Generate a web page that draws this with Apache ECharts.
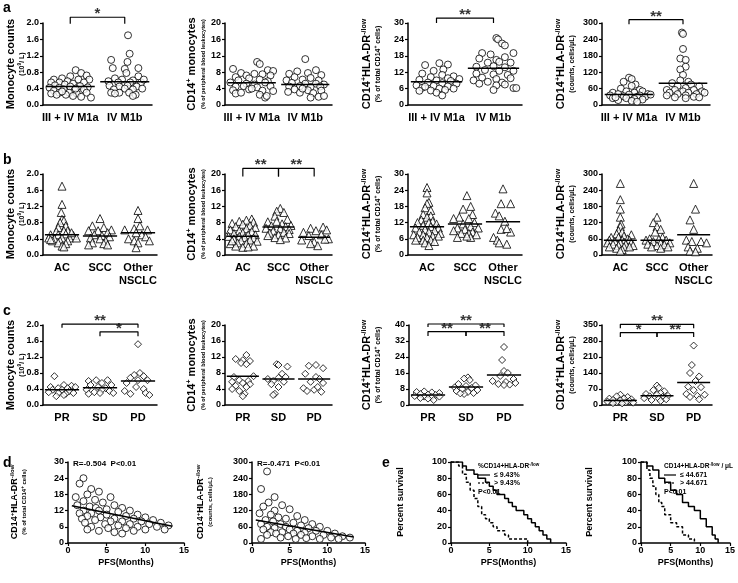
<!DOCTYPE html>
<html>
<head>
<meta charset="utf-8">
<title>Monocytes / HLA-DR</title>
<script src="https://cdn.jsdelivr.net/npm/echarts@6/dist/echarts.min.js"></script>
<style>html,body{margin:0;background:#fff}#main{width:738px;height:583px}</style>
</head>
<body>
<div id="main"></div>
<script>
// ---------- data ----------
var catA = ['III + IV M1a', 'IV M1b'];
var catB = ['AC', 'SCC', 'Other\nNSCLC'];
var catC = ['PR', 'SD', 'PD'];

// points are [jitter, value]
// a1 monocyte counts (10^9/L)
var a1_m1a = [[-0.3,0.62],[-0.15,0.65],[0,0.70],[0.1,0.85],[0.2,0.78],[0.3,0.72],[-0.35,0.55],[-0.2,0.55],[-0.05,0.58],[0.15,0.62],[0.35,0.62],[-0.28,0.48],[-0.1,0.5],[0.05,0.52],[0.25,0.55],[-0.38,0.42],[-0.2,0.42],[0,0.45],[0.18,0.46],[0.32,0.43],[-0.3,0.35],[-0.12,0.38],[0.08,0.36],[0.25,0.38],[-0.35,0.28],[-0.2,0.3],[-0.02,0.3],[0.12,0.28],[0.3,0.3],[-0.25,0.25],[0.05,0.22],[0.2,0.2],[0.38,0.18],[-0.08,0.25],[0.1,0.4],[-0.15,0.33]];
var a1_m1b = [[0.06,1.7],[0.09,1.25],[-0.25,1.1],[0.05,1.05],[-0.22,0.9],[0.25,0.9],[0,0.88],[0.03,0.78],[0.25,0.7],[-0.18,0.65],[-0.05,0.62],[0.15,0.6],[-0.3,0.58],[0.1,0.55],[-0.12,0.55],[0.3,0.55],[-0.28,0.47],[-0.1,0.45],[0.05,0.47],[0.22,0.45],[-0.2,0.38],[0,0.4],[0.15,0.38],[0.32,0.4],[-0.25,0.3],[-0.1,0.3],[0.08,0.3],[0.2,0.25],[0.15,0.22],[-0.18,0.28],[0.35,0.62]];
var a1_med = [0.45, 0.57];
// a2 CD14+ monocytes (%)
var a2_m1a = [[0.1,10.5],[0.15,10],[-0.35,8.8],[0.3,8.5],[0.4,8.3],[-0.2,7.8],[0.05,7.6],[-0.1,7.2],[0.2,7.5],[-0.3,6.8],[0.35,7.2],[-0.05,6.5],[0.15,6.2],[-0.25,6.0],[0.3,5.8],[-0.4,5.5],[-0.1,5.2],[0.05,5.0],[0.25,5.5],[-0.3,4.5],[-0.15,4.6],[0.1,4.3],[0.35,4.6],[-0.35,3.6],[-0.05,3.8],[0.2,3.5],[0.4,3.4],[-0.3,2.8],[0.15,2.5],[0.25,1.8],[0.28,2.2],[-0.2,3.0],[0,4.0]];
var a2_m1b = [[0,11.2],[-0.15,8.2],[0.2,8.5],[-0.3,7.6],[0.05,7.8],[0.3,7.3],[-0.2,6.8],[0.1,6.6],[-0.35,6.0],[-0.05,6.2],[0.25,6.0],[-0.25,5.4],[0,5.2],[0.2,5.2],[0.35,5.0],[-0.3,4.5],[-0.1,4.6],[0.1,4.4],[0.28,4.5],[-0.2,3.8],[0.05,3.6],[0.3,3.5],[-0.32,3.2],[-0.1,3.0],[0.15,2.9],[0.25,2.0],[0.1,1.8],[0.35,2.2],[-0.05,4.0]];
var a2_med = [5.4, 5.0];
// a3 CD14+HLA-DR-/low (% of CD14+)
var a3_m1a = [[0.05,15.3],[0.2,14.8],[-0.2,14.6],[0.12,13],[-0.05,12.5],[-0.25,11.5],[0.1,11],[0.3,10.5],[-0.1,10.2],[0.2,9.8],[0.4,9.5],[-0.3,9.2],[0,9.0],[0.25,8.8],[-0.15,8.2],[0.1,8.0],[0.35,7.8],[-0.35,7.2],[-0.05,7.0],[0.2,6.8],[-0.25,6.3],[0.05,6.0],[0.3,6.0],[-0.3,5.2],[-0.1,5.3],[0.15,5.5],[0,4.5],[0.1,3.5],[-0.2,6.7]];
var a3_m1b = [[0.05,24.5],[0.08,24],[0.15,22.5],[0.2,21.8],[-0.2,19],[0.35,19],[-0.05,18.5],[0.2,17.5],[-0.25,17],[0.05,16.5],[0.1,15.8],[-0.1,15.5],[0.3,15.5],[-0.3,14],[0,14.2],[0.2,13.8],[-0.15,12.8],[0.1,12.5],[0.35,12.5],[-0.3,11.5],[0,11.2],[0.25,11.0],[-0.2,10.0],[0.05,9.5],[0.3,9.8],[-0.35,9.0],[-0.1,8.5],[0.15,8.2],[-0.25,7.8],[0.05,7.2],[0.35,6.2],[0.4,6.2],[0,5.5],[0.2,7.5]];
var a3_med = [8.5, 13.4];
// a4 CD14+HLA-DR-/low (cells/uL)
var a4_m1a = [[0,100],[0.05,95],[-0.1,85],[0.12,75],[0.05,70],[-0.15,60],[0.2,55],[0.25,50],[-0.05,50],[-0.3,45],[0.1,45],[0.35,40],[-0.2,40],[0,38],[0.2,35],[-0.35,35],[-0.1,32],[0.15,30],[0.3,30],[-0.3,25],[-0.05,25],[0.1,22],[0.25,20],[-0.2,18],[0.05,15],[0.15,12],[-0.25,28],[0.4,38]];
var a4_m1b = [[-0.02,265],[0,260],[0,205],[-0.05,170],[0.05,165],[0.05,140],[-0.05,130],[0,110],[-0.05,90],[0.1,85],[-0.2,80],[0.15,75],[-0.1,70],[0.3,68],[0.05,62],[-0.3,55],[-0.15,55],[0.2,55],[0.35,50],[0,50],[-0.25,45],[0.1,45],[0.4,45],[-0.1,40],[0.25,40],[-0.3,35],[0.05,35],[0.2,30],[-0.15,28],[0.3,28],[0.05,25]];
var a4_med = [38, 80];

// b: histology
var b1_ac = [[0,1.7],[0,1.25],[-0.02,1.05],[0,0.88],[0.05,0.85],[-0.05,0.8],[0.1,0.72],[-0.1,0.68],[0.15,0.6],[-0.15,0.58],[0.05,0.6],[-0.3,0.5],[-0.1,0.5],[0.1,0.52],[0.3,0.48],[-0.35,0.42],[-0.2,0.4],[0,0.42],[0.2,0.42],[0.38,0.42],[-0.25,0.35],[-0.05,0.35],[0.15,0.35],[-0.1,0.3],[0.1,0.28],[0,0.22],[0.05,0.2],[-0.3,0.38],[0.25,0.55]];
var b1_scc = [[0,0.9],[-0.2,0.72],[0.1,0.68],[0.3,0.62],[-0.3,0.6],[-0.05,0.6],[0.2,0.55],[-0.15,0.5],[0.05,0.48],[0.25,0.45],[-0.25,0.42],[0,0.4],[0.15,0.35],[-0.2,0.3],[-0.3,0.25],[0.1,0.28],[0.2,0.25]];
var b1_oth = [[0,1.1],[0,0.9],[0.05,0.72],[-0.1,0.65],[0.25,0.62],[-0.35,0.62],[0.1,0.5],[-0.05,0.55],[0.2,0.45],[-0.25,0.4],[-0.1,0.35],[0.3,0.35],[0,0.3],[-0.05,0.18]];
var b1_med = [0.5, 0.47, 0.55];
var b2_ac = [[0.25,8.9],[0.1,8.6],[-0.1,8.3],[0.3,8.1],[-0.3,7.8],[0,7.6],[0.2,7.3],[-0.2,7.0],[0.35,6.8],[0.1,6.5],[-0.35,6.2],[-0.1,6.0],[0.25,5.8],[0,5.5],[-0.25,5.3],[0.15,5.0],[0.35,5.0],[-0.4,4.6],[-0.1,4.6],[0.05,4.3],[0.3,4.2],[-0.25,4.0],[0.2,3.7],[-0.05,3.5],[0.4,3.4],[-0.35,2.8],[-0.15,3.0],[0.1,2.8],[0.3,2.2],[-0.2,2.2],[0,1.9],[0.15,2.0],[-0.3,3.5]];
var b2_scc = [[0.05,11.5],[-0.05,10.8],[0.15,10.5],[-0.1,9.6],[0.25,8.8],[-0.3,8.2],[-0.05,8.3],[0.1,7.7],[0.35,7.3],[-0.2,7.2],[0.2,7.0],[-0.35,6.6],[0.05,6.5],[0.3,6.3],[-0.15,5.9],[0.15,5.6],[-0.25,5.4],[0.3,5.3],[0,5.0],[-0.1,4.3],[0.2,4.2],[0.05,3.8],[-0.3,4.8]];
var b2_oth = [[0.25,6.9],[-0.1,6.6],[0.35,6.2],[0.05,6.0],[-0.3,5.6],[0.2,5.0],[-0.15,4.8],[0.4,4.0],[0.3,3.9],[-0.35,3.7],[0,3.2],[-0.1,2.8],[0.1,2.3]];
var b2_med = [4.6, 6.9, 4.4];
var b3_ac = [[0,25],[0,23],[0.05,19.5],[0,19],[-0.05,17.5],[0.1,16.5],[-0.1,15],[0.1,14.5],[0,14],[-0.15,13],[0.15,12.5],[-0.25,12],[0.05,12],[0.25,11.5],[-0.1,11],[0.1,10.5],[-0.3,10],[0.3,10],[-0.05,9.5],[0.2,9],[-0.2,8.5],[0.05,8.5],[0.35,8],[-0.35,7.5],[-0.1,7.5],[0.15,7],[-0.25,6.5],[0,6.5],[0.3,7],[-0.3,5.5],[-0.1,5.5],[0.1,5.5],[-0.05,4.5],[0.05,3.5],[0.2,5]];
var b3_scc = [[0.05,22],[0.15,18],[-0.05,17],[0.2,15],[-0.15,14],[0.1,13.5],[-0.3,13.5],[0.25,12],[-0.05,11.5],[0.15,10.5],[-0.2,10],[0.35,10],[0,9.5],[-0.3,9],[0.2,8.5],[-0.1,8],[0.1,8],[0.3,7.5],[-0.2,6.5],[0.15,6.5],[0.05,7]];
var b3_oth = [[0,24.5],[-0.05,19],[0.2,19],[-0.2,15.5],[-0.1,14.5],[0.05,12.5],[-0.05,9.5],[0.2,8.5],[0.1,9.8],[-0.25,6.5],[-0.15,5.5],[-0.1,4.5],[0.1,4]];
var b3_med = [10.5, 11.5, 12.3];
var b4_ac = [[0,265],[0,205],[0,170],[0,140],[0.02,115],[0,105],[-0.05,90],[0.05,85],[0.3,75],[-0.1,78],[0.1,70],[-0.25,65],[-0.05,65],[0.2,60],[-0.3,55],[0.05,55],[0.25,55],[-0.15,50],[0.1,48],[-0.35,45],[0,45],[0.3,45],[-0.2,40],[0.15,40],[-0.05,35],[0.35,35],[-0.3,30],[0.1,30],[0.25,30],[-0.1,25],[0.05,20],[0,15]];
var b4_scc = [[0,140],[-0.1,120],[0,105],[0.1,95],[-0.05,85],[0.15,65],[-0.2,60],[0.05,58],[-0.3,55],[0.25,55],[-0.1,50],[0.1,45],[0.35,45],[-0.25,40],[0.2,38],[0,35],[-0.15,30],[0.3,30],[0.1,25]];
var b4_oth = [[0,265],[0.05,170],[-0.1,130],[0,95],[-0.2,55],[0.2,50],[-0.05,50],[0.35,45],[-0.15,30],[0.1,25],[-0.1,15],[0.05,12]];
var b4_med = [55, 55, 75];

// c: response
var c1_pr = [[-0.2,0.72],[0.05,0.5],[0.25,0.48],[-0.3,0.45],[-0.1,0.42],[0.15,0.42],[0.35,0.45],[-0.25,0.38],[0,0.38],[0.2,0.35],[-0.35,0.32],[-0.1,0.3],[0.1,0.28],[0.3,0.3],[-0.15,0.22],[0.05,0.25]];
var c1_sd = [[-0.3,0.6],[-0.1,0.62],[0.2,0.62],[0.05,0.55],[-0.25,0.5],[0.3,0.5],[-0.05,0.45],[0.15,0.42],[-0.35,0.38],[0.05,0.38],[0.25,0.35],[-0.15,0.32],[0.35,0.3],[-0.3,0.28],[0,0.3]];
var c1_pd = [[0,1.52],[0.05,0.8],[-0.1,0.75],[0.15,0.72],[-0.2,0.68],[0.25,0.62],[0,0.62],[-0.3,0.55],[-0.05,0.45],[0.15,0.4],[-0.35,0.35],[0.2,0.3],[-0.2,0.28],[0.3,0.25]];
var c1_med = [0.38, 0.43, 0.6];
var c2_pr = [[0.1,12.5],[-0.2,11.5],[0,11.2],[0.2,11.0],[-0.05,10.5],[0.1,10.2],[0.3,7.2],[-0.25,7.0],[-0.1,6.2],[0.15,6.0],[-0.3,5.8],[0,5.5],[0.2,5.2],[-0.2,4.8],[0.1,4.5],[-0.1,3.5],[0.05,2.8],[0,2.2],[-0.3,4.0]];
var c2_sd = [[-0.05,10.2],[0,10.0],[0.25,9.6],[0.1,7.8],[-0.3,6.5],[0,6.8],[0.2,7.0],[-0.15,6.0],[0.15,5.8],[-0.2,5.2],[0,4.5],[-0.1,2.8],[-0.15,2.5]];
var c2_pd = [[-0.15,9.8],[0.05,10.0],[0.25,9.2],[-0.25,7.8],[0.05,7.0],[0.15,6.5],[-0.1,5.8],[0.25,5.5],[-0.3,4.2],[0,3.8],[-0.2,3.5],[0.2,3.3],[0.1,4.5]];
var c2_med = [7.2, 6.5, 6.5];
var c3_pr = [[-0.3,6.5],[-0.1,6.8],[0.1,6.3],[0.3,6.0],[-0.2,5.5],[0,5.2],[0.2,5.0],[-0.35,4.5],[-0.1,4.2],[0.1,4.0],[0.3,4.2],[-0.2,3.5],[0,3.2],[0.15,2.5]];
var c3_sd = [[0.05,13.8],[-0.05,13.2],[0.1,12.5],[-0.2,10.5],[0.25,9.8],[0,9.5],[-0.3,8.8],[0.15,8.5],[-0.1,8.0],[0.3,7.5],[-0.25,7.0],[0.05,6.5],[0.2,6.0],[-0.05,5.5],[-0.15,5.8]];
var c3_pd = [[0,29],[-0.05,22.5],[0,17],[0.1,16],[-0.1,14.5],[0.25,13],[-0.3,12],[0.05,11.5],[0.3,11],[-0.15,10.5],[0.15,10.2],[0,10]];
var c3_med = [5, 9, 15];
var c4_pr = [[0,45],[-0.1,38],[0.2,35],[-0.3,28],[0.1,28],[0.3,25],[-0.2,22],[0,20],[0.25,18],[-0.35,15],[-0.1,12],[0.15,12],[0.35,10],[-0.2,8],[0.05,7]];
var c4_sd = [[0,85],[0.05,75],[-0.1,65],[0.2,60],[0.1,52],[-0.3,48],[0,45],[0.3,40],[-0.2,38],[0.15,35],[-0.35,30],[0.05,28],[0.25,25],[-0.15,22],[0.1,18]];
var c4_pd = [[0,260],[-0.05,175],[-0.1,140],[0.15,125],[0.05,105],[-0.15,80],[0.2,78],[0,65],[-0.2,48],[0.3,45],[0.1,40],[-0.1,35],[0.15,25]];
var c4_med = [20, 40, 98];

// d: correlation with PFS, [months, value]
var dPct = [[2,24],[1.5,22],[3,20],[2.5,18],[4,19],[5.5,17],[1,17],[3.5,16],[2,15.5],[4.5,15],[6,14],[1.2,14],[2.8,13.5],[3.6,13],[5,12.5],[7,13],[2,12],[4,12],[6.5,11.5],[8,12],[1.5,11],[3,11],[5,10.5],[7.5,10],[9,10.5],[2.5,10],[4.2,9.5],[6,9],[8.5,9],[10,9.5],[1.8,9],[3.5,8.5],[5.5,8],[7,8],[9.5,8],[11,8.5],[2.2,7.5],[4.8,7],[6.5,6.5],[8,7],[10.5,7],[12,7.5],[3,6],[5.2,5.5],[7.5,5.5],[9,6],[11.5,6],[13,6.5],[4,4.5],[6,4],[8.5,4.5],[10,5],[12.5,5],[2.5,5],[7,3.5]];
var dPctFit = [[0.5,13.8],[13.5,6.2]];
var dCnt = [[2,265],[1.2,200],[3,170],[2.2,150],[1.5,135],[4,140],[5,125],[3,120],[1,110],[2.5,105],[6,100],[3.5,95],[4.5,90],[1.8,85],[7,85],[2.8,80],[5.5,75],[1.2,70],[3.8,70],[6.5,65],[8,70],[2,60],[4.5,60],[3,55],[7.5,55],[9,60],[1.5,50],[5,50],[6,45],[8.5,45],[2.5,40],[4,40],[10,45],[7,38],[3.2,35],[5.5,35],[11,35],[9.5,30],[6.5,30],[2,30],[4.8,25],[8,25],[12,25],[10.5,20],[3.8,20],[13,20],[7.2,18],[5.8,15],[9,15],[11.5,15],[1.2,15]];
var dCntFit = [[0.5,85],[13.5,22]];

// e: Kaplan-Meier, [months, % survival]
var ePctLow  = [[0,100],[1.5,95],[2,90],[3,85],[3.5,80],[4.5,75],[5,70],[5.5,65],[6,60],[7,55],[7.5,50],[8,45],[8.5,40],[9.5,35],[10,30],[10.5,25],[11,20],[11.5,15],[12,10],[12.5,5],[13,0]];
var ePctHigh = [[0,100],[1,95],[1.5,85],[2,75],[2.5,65],[3,55],[3.5,45],[4,35],[4.5,30],[5,25],[5.5,20],[6,15],[7,10],[7.5,5],[10,0]];
var eCntLow  = [[0,100],[1,95],[2,90],[3,80],[4,75],[5,65],[6,60],[7,50],[8,45],[9,40],[10,30],[11,20],[12,10],[12.5,5],[13,0]];
var eCntHigh = [[0,100],[1,90],[1.5,80],[2,70],[2.5,60],[3,50],[3.5,45],[4,35],[5,25],[6,20],[7,10],[8,5],[9,0]];

// ---------- build ----------
var FONT = 'Liberation Sans';
var grids = [], xAxes = [], yAxes = [], series = [], graphic = [];

function yAx(max, step) {
  return {type: 'value', min: 0, max: max, interval: step,
    axisLine: {show: true, lineStyle: {color: '#000', width: 1.5}},
    axisTick: {show: true, length: 3, lineStyle: {color: '#000', width: 1.2}},
    splitLine: {show: false},
    axisLabel: {color: '#000', fontFamily: FONT, fontWeight: 'bold', fontSize: 9, margin: 4,
      formatter: function (v) { return step < 1 ? v.toFixed(1) : String(v); }}};
}
function xCat(cats) {
  return {type: 'value', min: 0, max: cats.length, interval: 0.5,
    axisLine: {lineStyle: {color: '#000', width: 1.5}},
    axisTick: {show: false}, splitLine: {show: false},
    axisLabel: {color: '#000', fontFamily: FONT, fontWeight: 'bold', fontSize: 11, margin: 6, lineHeight: 13,
      showMinLabel: true, showMaxLabel: true,
      formatter: function (v) {
        var k = v - 0.5;
        return Math.abs(k - Math.round(k)) < 1e-6 ? (cats[Math.round(k)] || '') : '';
      }}};
}
function xNum(name) {
  return {type: 'value', min: 0, max: 15, interval: 5,
    axisLine: {lineStyle: {color: '#000', width: 1.5}},
    axisTick: {show: true, length: 3, lineStyle: {color: '#000', width: 1.2}},
    splitLine: {show: false},
    axisLabel: {color: '#000', fontFamily: FONT, fontWeight: 'bold', fontSize: 9, margin: 3},
    name: name, nameLocation: 'middle', nameGap: 15,
    nameTextStyle: {color: '#000', fontFamily: FONT, fontWeight: 'bold', fontSize: 9}};
}
function addGrid(box, xa, ya) {
  var i = grids.length;
  grids.push({left: box[0], top: box[1], width: box[2], height: box[3]});
  xa.gridIndex = i; ya.gridIndex = i;
  xAxes.push(xa); yAxes.push(ya);
  return i;
}

// dot plot panel
function dotPanel(box, cats, groups, meds, ymax, step, sym, brackets) {
  var i = addGrid(box, xCat(cats), yAx(ymax, step));
  groups.forEach(function (g, k) {
    series.push({type: 'scatter', xAxisIndex: i, yAxisIndex: i, symbol: sym, symbolSize: sym == 'triangle' ? 8 : 7,
      data: g.map(function (p) { return [k + 0.5 + p[0], p[1]]; }),
      itemStyle: {color: '#fff', borderColor: '#000', borderWidth: 1}, silent: true, z: 2});
    series.push({type: 'line', xAxisIndex: i, yAxisIndex: i, symbol: 'none', silent: true, z: 3,
      data: [[k + 0.05, meds[k]], [k + 0.95, meds[k]]], lineStyle: {color: '#000', width: 1.5}});
  });
  (brackets || []).forEach(function (b) {
    var x1 = b[0] + 0.5, x2 = b[1] + 0.5;
    series.push({type: 'line', xAxisIndex: i, yAxisIndex: i, symbol: 'none', clip: false, silent: true,
      data: [[x1, b[3]], [x1, b[2]], [x2, b[2]], [x2, b[3]]], lineStyle: {color: '#000', width: 1.2}});
    series.push({type: 'scatter', xAxisIndex: i, yAxisIndex: i, symbolSize: 1, clip: false, silent: true,
      data: [[(x1 + x2) / 2, b[2]]], itemStyle: {color: 'rgba(0,0,0,0)'},
      label: {show: true, position: 'top', distance: -5, formatter: b[4], color: '#000',
        fontFamily: FONT, fontWeight: 'bold', fontSize: 15}});
  });
}

// brackets: [from, to, top, tip, stars]
dotPanel([43, 23, 109, 82], catA, [a1_m1a, a1_m1b], a1_med, 2, 0.4, 'circle', [[0, 1, 2.14, 1.98, '*']]);
dotPanel([225, 23, 107, 82], catA, [a2_m1a, a2_m1b], a2_med, 20, 4, 'circle');
dotPanel([408, 23, 114, 82], catA, [a3_m1a, a3_m1b], a3_med, 30, 6, 'circle', [[0, 1, 31.8, 30, '**']]);
dotPanel([602, 23, 108, 82], catA, [a4_m1a, a4_m1b], a4_med, 300, 60, 'circle', [[0, 1, 312, 295, '**']]);

dotPanel([43, 174, 114, 81], catB, [b1_ac, b1_scc, b1_oth], b1_med, 2, 0.4, 'triangle');
dotPanel([225, 174, 107, 81], catB, [b2_ac, b2_scc, b2_oth], b2_med, 20, 4, 'triangle',
  [[0, 1, 21.4, 19.4, '**'], [1, 2, 21.4, 19.4, '**']]);
dotPanel([408, 174, 114, 81], catB, [b3_ac, b3_scc, b3_oth], b3_med, 30, 6, 'triangle');
dotPanel([602, 174, 110, 81], catB, [b4_ac, b4_scc, b4_oth], b4_med, 300, 60, 'triangle');

dotPanel([43, 325, 114, 80], catC, [c1_pr, c1_sd, c1_pd], c1_med, 2, 0.4, 'diamond',
  [[0, 2, 2.02, 1.93, '**'], [1, 2, 1.83, 1.72, '*']]);
dotPanel([225, 325, 107, 80], catC, [c2_pr, c2_sd, c2_pd], c2_med, 20, 4, 'diamond');
dotPanel([409, 325, 114, 80], catC, [c3_pr, c3_sd, c3_pd], c3_med, 40, 8, 'diamond',
  [[0, 2, 40.5, 39, '**'], [0, 1, 36.7, 34.5, '**'], [1, 2, 36.7, 34.5, '**']]);
dotPanel([602, 325, 110, 80], catC, [c4_pr, c4_sd, c4_pd], c4_med, 350, 70, 'diamond',
  [[0, 2, 353, 336, '**'], [0, 1, 317, 297, '*'], [1, 2, 317, 297, '**']]);

// d: correlation panels
function corrPanel(box, pts, fit, ymax, step) {
  var i = addGrid(box, xNum('PFS(Months)'), yAx(ymax, step));
  series.push({type: 'scatter', xAxisIndex: i, yAxisIndex: i, symbol: 'circle', symbolSize: 7, data: pts,
    itemStyle: {color: '#fff', borderColor: '#000', borderWidth: 1}, silent: true});
  series.push({type: 'line', xAxisIndex: i, yAxisIndex: i, symbol: 'none', data: fit, silent: true,
    lineStyle: {color: '#000', width: 1.5}, z: 3});
}
corrPanel([68, 462, 116, 81], dPct, dPctFit, 30, 6);
corrPanel([252, 462, 113, 81], dCnt, dCntFit, 300, 60);

// e: survival panels
function kmPanel(box, low, high) {
  var i = addGrid(box, xNum('PFS(Months)'), yAx(100, 20));
  series.push({type: 'line', xAxisIndex: i, yAxisIndex: i, step: 'end', symbol: 'none', data: low, silent: true,
    lineStyle: {color: '#000', width: 1.5}});
  series.push({type: 'line', xAxisIndex: i, yAxisIndex: i, step: 'end', symbol: 'none', data: high, silent: true,
    lineStyle: {color: '#000', width: 1.5, type: [3, 2]}});
}
kmPanel([451, 462, 115, 81], ePctLow, ePctHigh);
kmPanel([641, 462, 92, 81], eCntLow, eCntHigh);

// ---------- text ----------
var rich = {
  t: {fontFamily: FONT, fontWeight: 'bold', fontSize: 11, lineHeight: 13, color: '#000'},
  tu: {fontFamily: FONT, fontWeight: 'bold', fontSize: 7, lineHeight: 13, verticalAlign: 'top', color: '#000'},
  s: {fontFamily: FONT, fontWeight: 'bold', fontSize: 7, lineHeight: 10, color: '#000'},
  sp: {fontFamily: FONT, fontWeight: 'bold', fontSize: 5.5, lineHeight: 10, color: '#000'},
  u: {fontFamily: FONT, fontWeight: 'bold', fontSize: 5, lineHeight: 10, verticalAlign: 'top', color: '#000'},
  dt: {fontFamily: FONT, fontWeight: 'bold', fontSize: 9, lineHeight: 11, color: '#000'},
  dtu: {fontFamily: FONT, fontWeight: 'bold', fontSize: 6, lineHeight: 11, verticalAlign: 'top', color: '#000'},
  ds: {fontFamily: FONT, fontWeight: 'bold', fontSize: 6, lineHeight: 9, color: '#000'},
  du: {fontFamily: FONT, fontWeight: 'bold', fontSize: 4.5, lineHeight: 9, verticalAlign: 'top', color: '#000'}
};
var T_MONO = '{t|Monocyte counts}\n{s|(10}{u|9}{s|/ L)}';
var T_CD14 = '{t|CD14}{tu|+}{t| monocytes}\n{sp|(% of peripheral blood leukocytes)}';
var T_PCT = '{t|CD14}{tu|+}{t|HLA-DR}{tu|-/low}\n{s|(% of total CD14}{u|+}{s| cells)}';
var T_CNT = '{t|CD14}{tu|+}{t|HLA-DR}{tu|-/low}\n{s|(counts, cells/μL)}';
var D_PCT = '{dt|CD14}{dtu|+}{dt|HLA-DR}{dtu|-/low}\n{ds|(% of total CD14}{du|+}{ds| cells)}';
var D_CNT = '{dt|CD14}{dtu|+}{dt|HLA-DR}{dtu|-/low}\n{ds|(counts, cells/μL)}';

function ytitle(x, y, txt) {
  graphic.push({type: 'text', x: x, y: y, rotation: Math.PI / 2,
    style: {text: txt, rich: rich, align: 'center', verticalAlign: 'middle'}});
}
function txt(x, y, s, size, align) {
  graphic.push({type: 'text', x: x, y: y,
    style: {text: s, fill: '#000', font: 'bold ' + size + 'px "' + FONT + '"', align: align || 'left', verticalAlign: 'middle'}});
}
[[23, 64], [174, 214], [325, 365]].forEach(function (r) {
  ytitle(16, r[1], T_MONO);
  ytitle(197, r[1], T_CD14);
  ytitle(372, r[1], T_PCT);
  ytitle(566, r[1], T_CNT);
});
ytitle(19, 502, D_PCT);
ytitle(205, 502, D_CNT);
graphic.push({type: 'text', x: 401, y: 502, rotation: Math.PI / 2,
  style: {text: 'Percent survival', fill: '#000', font: 'bold 9px "' + FONT + '"', align: 'center', verticalAlign: 'middle'}});
graphic.push({type: 'text', x: 590, y: 502, rotation: Math.PI / 2,
  style: {text: 'Percent survival', fill: '#000', font: 'bold 9px "' + FONT + '"', align: 'center', verticalAlign: 'middle'}});

txt(3, 8, 'a', 14); txt(3, 160, 'b', 14); txt(3, 311, 'c', 14); txt(3, 463, 'd', 14); txt(382, 463, 'e', 14);
txt(73, 464, 'R=-0.504  P<0.01', 8);
txt(257, 464, 'R=-0.471  P<0.01', 8);

function kmLegend(x, title, lo, hi) {
  graphic.push({type: 'text', x: x, y: 466, style: {text: title, rich: {
    a: {fontFamily: FONT, fontWeight: 'bold', fontSize: 6.5, color: '#000'},
    b: {fontFamily: FONT, fontWeight: 'bold', fontSize: 4.5, verticalAlign: 'top', color: '#000'}}, verticalAlign: 'middle'}});
  graphic.push({type: 'line', shape: {x1: x, y1: 475, x2: x + 12, y2: 475}, style: {stroke: '#000', lineWidth: 1.2}});
  graphic.push({type: 'line', shape: {x1: x, y1: 483, x2: x + 12, y2: 483}, style: {stroke: '#000', lineWidth: 1.2, lineDash: [2, 2]}});
  txt(x + 16, 475, lo, 7); txt(x + 16, 483, hi, 7); txt(x, 492, 'P<0.01', 7);
}
kmLegend(478, '{a|%CD14+HLA-DR}{b|-/low}', '≤ 9.43%', '> 9.43%');
kmLegend(664, '{a|CD14+HLA-DR}{b|-/low}{a| / μL}', '≤ 44.671', '> 44.671');

var chart = echarts.init(document.getElementById('main'));
chart.setOption({
  animation: false,
  grid: grids, xAxis: xAxes, yAxis: yAxes, series: series, graphic: graphic
});
</script>
</body>
</html>
